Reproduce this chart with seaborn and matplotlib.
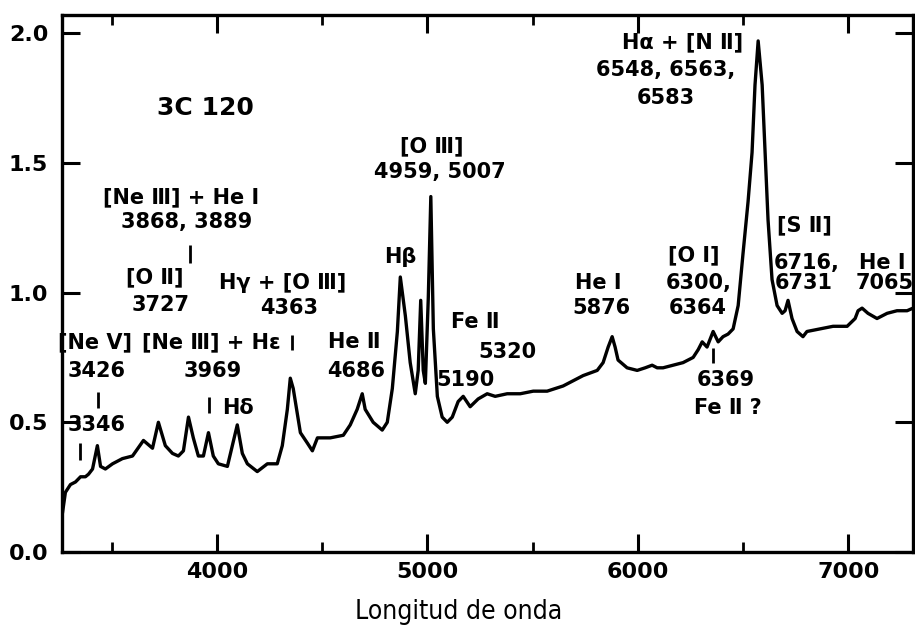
import matplotlib
matplotlib.use("Agg")
import matplotlib.pyplot as plt
import seaborn as sns
import pandas as pd
from matplotlib import font_manager
from matplotlib.ticker import MultipleLocator, NullLocator

# Optical spectrum of 3C 120: wavelength (Angstrom) and relative flux
wavelength = [
    3265, 3279, 3303, 3327, 3351, 3374, 3389, 3408, 3431, 3446, 3469, 3503,
    3550, 3598, 3650, 3693, 3721, 3754, 3788, 3816, 3840, 3864, 3887, 3911,
    3935, 3959, 3982, 4006, 4049, 4096, 4120, 4144, 4191, 4239, 4286, 4310,
    4334, 4348, 4362, 4396, 4429, 4453, 4477, 4538, 4600, 4633, 4666, 4690,
    4704, 4742, 4785, 4809, 4833, 4857, 4871, 4895, 4918, 4942, 4956, 4968,
    4980, 4990, 5004, 5016, 5028, 5047, 5070, 5094, 5118, 5146, 5170, 5203,
    5241, 5284, 5322, 5379, 5441, 5503, 5569, 5645, 5693, 5740, 5807, 5835,
    5859, 5878, 5892, 5906, 5949, 5997, 6035, 6068, 6092, 6120, 6168, 6215,
    6263, 6287, 6306, 6329, 6358, 6382, 6405, 6429, 6453, 6477, 6500, 6524,
    6543, 6557, 6572, 6591, 6605, 6619, 6638, 6662, 6686, 6700, 6714, 6733,
    6757, 6785, 6804, 6866, 6928, 6995, 7033, 7047, 7066, 7094, 7137, 7185,
    7232, 7280, 7308,
]
flux = [
    0.15, 0.23, 0.26, 0.27, 0.29, 0.29, 0.30, 0.32, 0.41, 0.33, 0.32, 0.34,
    0.36, 0.37, 0.43, 0.40, 0.50, 0.41, 0.38, 0.37, 0.39, 0.52, 0.44, 0.37,
    0.37, 0.46, 0.37, 0.34, 0.33, 0.49, 0.38, 0.34, 0.31, 0.34, 0.34, 0.41,
    0.55, 0.67, 0.63, 0.46, 0.42, 0.39, 0.44, 0.44, 0.45, 0.49, 0.55, 0.61,
    0.55, 0.50, 0.47, 0.50, 0.63, 0.85, 1.06, 0.91, 0.73, 0.61, 0.70, 0.97,
    0.70, 0.65, 0.98, 1.37, 0.86, 0.60, 0.52, 0.50, 0.52, 0.58, 0.60, 0.56,
    0.59, 0.61, 0.60, 0.61, 0.61, 0.62, 0.62, 0.64, 0.66, 0.68, 0.70, 0.73,
    0.79, 0.83, 0.79, 0.74, 0.71, 0.70, 0.71, 0.72, 0.71, 0.71, 0.72, 0.73,
    0.75, 0.78, 0.81, 0.79, 0.85, 0.81, 0.83, 0.84, 0.86, 0.95, 1.15, 1.35,
    1.54, 1.80, 1.97, 1.80, 1.54, 1.28, 1.05, 0.95, 0.92, 0.93, 0.97, 0.90,
    0.85, 0.83, 0.85, 0.86, 0.87, 0.87, 0.90, 0.93, 0.94, 0.92, 0.90, 0.92,
    0.93, 0.93, 0.94,
]

x_ticks = [4000, 5000, 6000, 7000]
y_ticks = [0.0, 0.5, 1.0, 1.5, 2.0]
y_tick_labels = ["0.0", "0.5", "1.0", "1.5", "2.0"]

# Line identifications: (text, wavelength position, flux position)
line_labels = [
    ("[Ne Ⅲ] + He Ⅰ", 3829, 1.369),
    ("3868, 3889", 3857, 1.273),
    ("[O Ⅱ]", 3705, 1.057),
    ("3727", 3729, 0.953),
    ("Hγ + [O Ⅲ]", 4313, 1.037),
    ("4363", 4342, 0.941),
    ("[Ne Ⅴ]", 3418, 0.810),
    ("3426", 3425, 0.698),
    ("3346", 3425, 0.490),
    ("[Ne Ⅲ] + Hε", 3972, 0.810),
    ("3969", 3981, 0.698),
    ("Hδ", 4100, 0.555),
    ("He Ⅱ", 4651, 0.810),
    ("4686", 4660, 0.698),
    ("Hβ", 4869, 1.138),
    ("[O Ⅲ]", 5022, 1.562),
    ("4959, 5007", 5060, 1.465),
    ("Fe Ⅱ", 5226, 0.887),
    ("5320", 5378, 0.771),
    ("5190", 5183, 0.663),
    ("He Ⅰ", 5811, 1.037),
    ("5876", 5825, 0.941),
    ("[O Ⅰ]", 6267, 1.145),
    ("6300,", 6291, 1.037),
    ("6364", 6286, 0.941),
    ("6369", 6419, 0.663),
    ("Fe Ⅱ ?", 6428, 0.555),
    ("Hα + [N Ⅱ]", 6215, 1.963),
    ("6548, 6563,", 6134, 1.859),
    ("6583", 6134, 1.751),
    ("[S Ⅱ]", 6794, 1.261),
    ("6716,", 6804, 1.115),
    ("6731", 6790, 1.037),
    ("He Ⅰ", 7160, 1.115),
    ("7065", 7175, 1.037),
]

# Short marker bars under some identifications: (wavelength, lower, upper)
marker_bars = [
    (3349, 0.355, 0.420),
    (3434, 0.556, 0.618),
    (3871, 1.114, 1.184),
    (3962, 0.536, 0.598),
    (4356, 0.779, 0.837),
    (6357, 0.729, 0.787),
]

sns.set_style("ticks")
plt.rcParams["font.family"] = ["DejaVu Sans"]
plt.rcParams["text.color"] = "black"
plt.rcParams["axes.labelcolor"] = "black"

# A narrow face for the axis title, if one is installed
narrow_names = {f.name for f in font_manager.fontManager.ttflist}
if "Liberation Sans Narrow" in narrow_names:
    title_font = dict(family="Liberation Sans Narrow", fontsize=22.5)
else:
    title_font = dict(family="DejaVu Sans", fontstretch="condensed",
                      fontsize=19)

fig = plt.figure(figsize=(9.15, 6.29), dpi=100)
ax = fig.add_axes([0.0678, 0.1224, 0.9300, 0.8538])

df = pd.DataFrame({"wavelength": wavelength, "flux": flux})
sns.lineplot(data=df, x="wavelength", y="flux", ax=ax, color="black",
             linewidth=2.4, estimator=None, sort=False)

ax.set_xlim(3263, 7308)
ax.set_ylim(0, 2.07)

ax.set_xticks(x_ticks)
ax.set_xticklabels([str(t) for t in x_ticks])
ax.xaxis.set_minor_locator(MultipleLocator(500))
ax.set_yticks(y_ticks)
ax.set_yticklabels(y_tick_labels)
ax.yaxis.set_minor_locator(NullLocator())

ax.tick_params(which="major", direction="in", length=13, width=2.2,
               top=True, right=True, labelsize=16, colors="black")
ax.tick_params(axis="x", which="major", pad=7)
ax.tick_params(axis="y", which="major", pad=10)
ax.tick_params(which="minor", direction="in", length=7, width=2.0, top=True,
               colors="black")
for lbl in ax.get_xticklabels() + ax.get_yticklabels():
    lbl.set_fontweight("bold")

for side in ["left", "right", "top", "bottom"]:
    ax.spines[side].set_linewidth(2.4)
    ax.spines[side].set_color("black")

ax.set_ylabel("")
ax.set_xlabel("Longitud de onda", color="black", va="center", **title_font)
ax.xaxis.set_label_coords(0.466, -0.112)

ax.text(3943, 1.712, "3C 120", fontsize=18, fontweight="bold",
        color="black", ha="center", va="center")

for text, xpos, ypos in line_labels:
    ax.text(xpos, ypos, text, fontsize=15, fontweight="bold",
            color="black", ha="center", va="center")

for xpos, lo, hi in marker_bars:
    ax.vlines(xpos, lo, hi, color="black", linewidth=2.0)

fig.savefig("out.png", dpi=100, facecolor="white")
